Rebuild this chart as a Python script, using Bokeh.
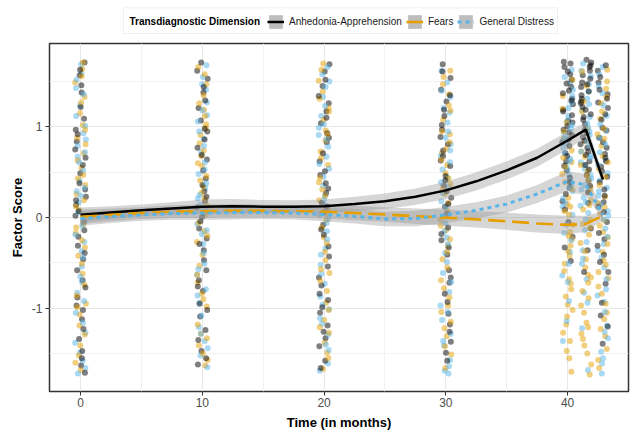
from bokeh.plotting import figure
from bokeh.layouts import column
from bokeh.models import (ColumnDataSource, Legend, LegendItem, Range1d, FixedTicker,
                          Label, BoxAnnotation)
from bokeh.embed import file_html
from bokeh.resources import INLINE

# ---------------- data ----------------
series_names = ["Anhedonia-Apprehension", "Fears", "General Distress"]
series_colors = ["#000000", "#E69F00", "#56B4E9"]
legend_title = "Transdiagnostic Dimension"

wave_times = [0, 10, 20, 30, 40, 41.5, 42.9]

anhedonia_scores = [
    [0.84, -1.12, 0.31, 1.57, -0.46, 0.02, -1.63, 1.09, -0.21, 0.66, -0.88, 1.38, 0.14, -0.69, 1.71, -1.34, 0.49, -0.05, 0.97, -1.47,
     0.23, -0.31, 1.22, -0.97, 0.58, -1.71, 0.38, -0.58, 1.46, -0.14, 0.75, -1.23, 0.07, -0.77, 1.63, -1.55, 0.92, -0.39, 0.19, -1.02],
    [1.21, -0.36, 0.64, -1.47, 0.18, 1.62, -0.81, 0.43, -1.09, 0.95, -0.12, 1.38, -1.62, 0.29, -0.58, 1.07, 0.01, -1.24, 0.77, -0.47,
     1.53, -0.95, 0.36, -1.35, 0.86, -0.23, 1.71, -0.69, 0.52, -1.55, 0.11, 1.29, -0.04, -1.02, 0.69, 1.44, -0.29, 0.23, -0.76, 0.98],
    [0.47, -1.33, 1.26, -0.08, 0.83, -0.66, 1.61, -1.19, 0.16, -0.43, 1.04, -1.58, 0.62, 0.27, -0.91, 1.45, -0.19, 0.93, -1.42, 0.38,
     1.69, -0.75, 0.06, -1.05, 1.17, -0.32, 0.71, -1.66, 0.51, -0.54, 1.34, 0.12, -0.99, 0.88, -1.26, 1.52, -0.13, 0.32, -0.84, 1.1],
    [0.97, -0.41, 1.54, 0.12, -1.06, 0.63, 1.28, -0.72, 0.35, -1.37, 1.69, 0.04, -0.25, 0.81, -1.18, 1.12, 0.46, -0.58, 1.41, -0.93,
     0.22, 0.74, -1.49, 1.02, -0.11, 0.57, -0.84, 1.61, 0.29, -1.26, 0.89, -0.33, 1.19, -0.66, 0.41, -1.58, 0.68, 1.35, -0.18, 0.15],
    [1.72, 0.94, 1.31, 0.52, 1.58, 0.18, 1.07, 1.44, 0.71, -0.21, 1.66, 0.86, 1.19, 0.33, 1.52, 0.62, 1.01, -0.48, 1.37, 0.79,
     1.25, 0.09, 1.61, 0.97, 0.44, 1.13, 1.48, 0.57, -0.05, 1.29, 0.83, 1.7, 0.26, 1.05, 0.68, 1.4, -0.33, 0.91, 1.17, 0.39],
    [1.49, 0.77, 1.68, 1.03, 0.41, 1.26, 1.74, 0.62, 1.11, -0.12, 1.57, 0.93, 1.35, 0.28, 1.62, 0.85, 1.19, 0.53, 1.44, -0.36,
     1.71, 1.08, 0.69, 1.31, 0.16, 1.53, 0.97, 1.22, 0.47, 1.66, 0.81, 1.39, -0.6, 1.14, 0.58, 1.47, 0.89, 0.35, 1.28, 0.73],
    [0.88, -0.24, 1.36, 0.51, -0.73, 1.62, 0.17, 0.96, -1.08, 1.21, 0.39, -0.41, 1.49, 0.7, -0.05, 1.08, -1.39, 0.62, 1.27, 0.24,
     -0.6, 1.55, 0.83, -0.17, 1.14, 0.45, -0.94, 1.41, 0.06, 0.77, -0.31, 1.68, 0.56, -1.2, 0.99, 0.31, -0.49, 1.31, 0.12, 0.66],
]
fears_scores = [
    [-0.62, 1.33, 0.08, -1.41, 0.71, -0.17, 1.64, -0.95, 0.43, -1.68, 0.26, 1.02, -0.33, -1.19, 0.88, 0.55, -0.74, 1.49, -0.08, -1.52,
     0.36, 1.15, -0.51, 0.63, -1.29, 0.12, 1.71, -0.86, -0.25, 0.97, -1.07, 0.47, -1.6, 1.27, 0.19, -0.42, 0.81, -0.99, 1.56, -0.11],
    [-0.15, 1.47, -1.28, 0.57, 0.03, -0.72, 1.19, -1.57, 0.82, -0.41, 1.66, 0.21, -0.98, 0.68, -1.41, 0.34, 1.03, -0.27, -1.63, 0.91,
     0.13, -0.84, 1.35, -0.53, 0.46, -1.18, 1.58, -0.06, 0.74, -1.33, 0.27, 1.12, -0.63, -1.5, 0.99, 0.41, -0.2, 1.26, -0.9, 0.6],
    [-0.94, 0.58, 1.39, -0.22, -1.49, 0.19, 0.96, -0.61, 1.63, -1.13, 0.44, -0.03, 1.21, -1.67, 0.73, -0.38, 0.09, 1.51, -0.81, 0.31,
     -1.27, 1.08, -0.47, 0.66, -1.55, 1.31, 0.04, -0.7, 0.85, -1.02, 1.7, -0.28, 0.39, -1.38, 0.92, -0.11, 1.17, -0.57, 0.24, -1.21],
    [-0.31, 0.92, -1.22, 0.49, 1.36, -0.69, 0.07, -1.51, 1.08, -0.14, 0.71, -0.97, 1.62, 0.26, -0.46, -1.31, 0.83, -0.02, 1.24, -0.78,
     0.37, -1.66, 0.58, 1.47, -0.24, -1.04, 0.16, 0.95, -0.55, 1.18, -1.42, 0.43, -0.09, 0.76, -0.88, 1.55, -1.15, 0.31, -0.38, 0.64],
    [-0.42, 0.61, -1.18, 0.15, -0.73, 1.34, -1.55, -0.08, 0.39, -0.96, 0.87, -1.36, -0.24, 1.05, -0.59, 0.22, -1.7, 0.48, -0.31, -0.87,
     1.52, -1.09, 0.03, -0.51, 0.74, -1.27, -0.16, 0.95, -0.68, 0.31, -1.47, 0.12, 1.2, -0.37, -0.79, 0.56, -1.02, 0.07, -0.2, 0.66],
    [-0.63, 0.28, -1.41, 0.84, -0.19, -0.97, 0.52, -1.62, 0.09, -0.46, 1.17, -1.21, -0.02, 0.67, -0.81, 1.45, -1.73, -0.28, 0.41, -1.05,
     0.19, -0.55, 0.98, -1.34, -0.11, 0.73, -0.72, 1.61, -1.5, 0.33, -0.37, -0.89, 0.58, -1.16, 0.14, 1.28, -0.66, -0.07, 0.46, -1.28],
    [0.23, -1.05, 0.79, -0.38, 1.42, -1.57, 0.11, -0.67, 1.09, -0.16, 0.54, -1.31, 1.63, -0.84, 0.36, -0.03, -1.45, 0.92, -0.52, 1.26,
     -0.22, 0.68, -1.12, 0.04, 1.5, -0.76, 0.45, -1.66, 0.87, -0.29, 1.17, -0.95, 0.16, -0.47, 1.33, -1.23, 0.61, -0.09, 0.98, -0.6],
]
distress_scores = [
    [0.41, -0.83, 1.59, -0.27, -1.38, 0.93, 0.17, -1.66, 1.24, -0.54, 0.67, -0.04, 1.43, -1.16, 0.29, -0.71, 1.01, -1.49, 0.52, -0.19,
     1.69, -0.92, 0.06, -1.27, 0.79, -0.37, 1.12, -1.58, 0.33, 0.61, -0.65, 1.36, -1.05, -0.09, 0.86, -1.72, 0.24, 1.52, -0.44, 0.72],
    [0.72, -1.21, 0.05, 1.41, -0.63, 0.33, -1.52, 1.13, -0.18, 0.87, -0.94, 1.68, 0.21, -1.36, 0.48, -0.39, 1.27, -1.08, 0.61, -0.07,
     1.55, -0.79, 0.14, -1.65, 0.95, -0.29, 1.06, -0.51, 0.38, -1.28, 1.47, 0.09, -0.86, 0.79, -1.44, 0.25, 1.18, -0.57, 0.53, -0.14],
    [1.33, -0.52, 0.24, -1.61, 0.91, -0.15, 1.58, -1.01, 0.45, -0.34, 1.12, -1.29, 0.03, 0.67, -0.87, 1.44, -1.46, 0.35, -0.06, 0.99,
     -0.73, 1.66, -1.17, 0.54, -0.41, 1.23, -1.69, 0.13, 0.78, -0.96, 1.03, -0.24, 0.59, -1.4, 1.5, -0.62, 0.2, -1.11, 0.86, -0.01],
    [-1.69, 0.53, -0.22, 1.16, -0.97, 0.34, -1.41, 0.81, -0.06, 1.49, -0.61, -1.57, 0.18, 0.95, -1.13, 0.44, 1.33, -0.39, -1.72, 0.68,
     0.02, -0.82, 1.21, -1.28, 0.27, -0.49, 1.62, -1.04, 0.61, -0.15, 0.88, -1.64, 0.39, 1.05, -0.71, -1.36, 0.11, 1.4, -0.29, 0.74],
    [0.82, -0.17, 1.21, 0.36, -0.64, 1.49, 0.58, 0.03, 1.06, -0.92, 0.71, 1.63, 0.21, -0.38, 0.94, 0.47, 1.34, -1.14, 0.65, 0.12,
     1.12, -0.25, 0.89, 0.29, 1.55, -0.51, 0.77, 0.41, 1.27, -0.08, 0.54, 0.98, -1.36, 0.33, 1.41, 0.16, -0.71, 0.86, 0.62, 1.02],
    [0.54, 1.18, -0.27, 0.91, 0.13, 1.47, -0.83, 0.68, 0.36, 1.31, -0.45, 0.79, 1.62, 0.05, -1.22, 1.04, 0.47, -0.14, 1.39, 0.61,
     -0.68, 0.95, 0.22, 1.56, -0.36, 0.84, 0.31, -1.68, 1.11, 0.58, -0.02, 1.25, 0.73, -0.94, 0.43, 1.7, 0.17, -0.51, 0.99, 0.66],
    [-1.72, 0.41, -0.29, 1.12, -0.86, 0.63, -1.48, 0.07, 1.37, -0.55, 0.88, -1.19, 0.24, -0.12, 1.58, -0.93, 0.49, -1.61, 0.96, -0.36,
     1.24, -0.68, 0.15, -1.33, 0.72, -0.02, 1.45, -1.04, 0.33, -0.44, 1.66, -0.79, 0.58, -1.26, 0.02, 1.03, -1.55, 0.29, 0.81, -0.21],
]

# horizontal jitter (months) applied to the observations
jitter_offsets = [-0.31, 0.12, 0.38, -0.07, 0.22, -0.42, 0.05, 0.29, -0.18, 0.41, -0.26, 0.09, -0.36, 0.17, 0.33, -0.12,
                  -0.02, 0.26, -0.39, 0.14, 0.44, -0.22, 0.01, -0.33, 0.19, 0.36, -0.09, -0.28, 0.07, 0.31, -0.44, 0.24,
                  -0.15, 0.4, -0.04, 0.11, -0.24, 0.34, -0.37, 0.2]

# smoothed trajectories with confidence half-widths
fit_time = [0, 2.5, 5, 7.5, 10, 12.5, 15, 17.5, 20, 22.5, 25, 27.5, 30, 32.5, 35, 37.5, 40, 41.5, 42.9]
anhedonia_fit = [0.03, 0.055, 0.08, 0.1, 0.12, 0.125, 0.12, 0.12, 0.125, 0.15, 0.18, 0.23, 0.3, 0.4, 0.52, 0.66, 0.85, 0.97, 0.42]
anhedonia_ci = [0.08, 0.07, 0.065, 0.07, 0.08, 0.08, 0.075, 0.07, 0.075, 0.08, 0.085, 0.09, 0.095, 0.1, 0.1, 0.1, 0.1, 0.08, 0.07]
fears_fit = [0.01, 0.03, 0.05, 0.065, 0.07, 0.075, 0.075, 0.07, 0.065, 0.05, 0.035, 0.015, 0.0, -0.02, -0.04, -0.065, -0.08, -0.07, 0.02]
fears_ci = [0.08, 0.07, 0.065, 0.07, 0.075, 0.075, 0.07, 0.07, 0.075, 0.08, 0.08, 0.085, 0.09, 0.09, 0.095, 0.1, 0.1, 0.09, 0.05]
distress_fit = [-0.01, 0.01, 0.03, 0.045, 0.05, 0.055, 0.055, 0.05, 0.035, 0.015, -0.015, -0.01, 0.03, 0.08, 0.15, 0.26, 0.4, 0.36, 0.03]
distress_ci = [0.08, 0.07, 0.065, 0.07, 0.075, 0.075, 0.07, 0.07, 0.075, 0.08, 0.08, 0.085, 0.09, 0.09, 0.095, 0.1, 0.11, 0.12, 0.05]

x_ticks = [0, 10, 20, 30, 40]
y_ticks = [-1, 0, 1]

FONT = "Liberation Sans"
fits = [anhedonia_fit, fears_fit, distress_fit]
cis = [anhedonia_ci, fears_ci, distress_ci]
dashes = ["solid", "17 7", "4 4"]
widths = [2.5, 2.6, 3.0]


def add_smooths(fig):
    bands, lines = [], []
    for f, c in zip(fits, cis):
        lo = [a - b for a, b in zip(f, c)]
        hi = [a + b for a, b in zip(f, c)]
        bands.append(fig.varea(x=fit_time, y1=lo, y2=hi, fill_color="#999999", fill_alpha=0.4))
    for f, col, d, lw in zip(fits, series_colors, dashes, widths):
        lines.append(fig.line(fit_time, f, line_color=col, line_width=lw, line_dash=d))
    return bands, lines


# ---------------- legend strip (top) ----------------
# (its frame is aligned with the main panel frame, which starts 49 px from the left)
leg = figure(width=630, height=42, output_backend="svg", toolbar_location=None,
             x_axis_type=None, y_axis_type=None, min_border=0,
             x_range=Range1d(1000, 1001), y_range=Range1d(1000, 1001))
leg.outline_line_color = None
leg.background_fill_color = "white"
leg.border_fill_color = "white"
kb, kl = add_smooths(leg)   # key renderers only (outside the visible range)

leg.add_layout(BoxAnnotation(left=74, right=508, bottom=9, top=34.7,
                             left_units="screen", right_units="screen",
                             bottom_units="screen", top_units="screen",
                             fill_color="white", fill_alpha=1, line_color="#CCCCCC", line_width=1))
leg.add_layout(Label(x=80, y=21.5, x_units="screen", y_units="screen", text=legend_title,
                     text_font=FONT, text_font_style="bold", text_font_size="10px",
                     text_baseline="middle", text_color="black"))
items = [LegendItem(label=name, renderers=[b, b, r]) for name, b, r in zip(series_names, kb, kl)]
legend = Legend(items=items, orientation="horizontal", location=(218, 12))
legend.label_text_font = FONT
legend.label_text_font_size = "10px"
legend.label_text_color = "#1A1A1A"
legend.label_standoff = 5
legend.glyph_width = 17
legend.glyph_height = 17
legend.spacing = 4
legend.padding = 4
legend.margin = 0
legend.border_line_color = None
legend.background_fill_alpha = 0
leg.add_layout(legend)

# ---------------- main panel ----------------
p = figure(width=630, height=390, output_backend="svg", toolbar_location=None,
           x_range=Range1d(-2.55, 45.0), y_range=Range1d(-1.918, 1.92),
           min_border_left=49, min_border_right=2, min_border_top=1, min_border_bottom=34)
p.background_fill_color = "white"
p.border_fill_color = "white"
p.outline_line_color = "#333333"
p.outline_line_width = 1.5

all_scores = [anhedonia_scores, fears_scores, distress_scores]
xs, ys, cols = [], [], []
for w, t in enumerate(wave_times):
    for i in range(len(jitter_offsets)):
        for s in range(3):
            js = jitter_offsets[(i + 13 * s) % len(jitter_offsets)]
            xs.append(t + js)
            ys.append(all_scores[s][w][i])
            cols.append(series_colors[s])
src = ColumnDataSource(dict(x=xs, y=ys, c=cols))
p.scatter("x", "y", source=src, size=6, fill_color="c", line_color=None, fill_alpha=0.5)

add_smooths(p)

p.xaxis.ticker = FixedTicker(ticks=x_ticks, minor_ticks=[5, 15, 25, 35, 45])
p.yaxis.ticker = FixedTicker(ticks=y_ticks, minor_ticks=[-1.5, -0.5, 0.5, 1.5])
p.yaxis.major_label_overrides = {-1: "-1", 0: "0", 1: "1"}
for ax in (p.xaxis[0], p.yaxis[0]):
    ax.axis_line_color = None
    ax.major_tick_line_color = "#333333"
    ax.major_tick_out = 4
    ax.major_tick_in = 0
    ax.minor_tick_line_color = None
    ax.major_label_text_font = FONT
    ax.major_label_text_font_size = "12px"
    ax.major_label_text_color = "#4D4D4D"
    ax.axis_label_text_font = FONT
    ax.axis_label_text_font_size = "13px"
    ax.axis_label_text_font_style = "bold"
    ax.axis_label_text_color = "black"
p.xaxis.axis_label = "Time (in months)"
p.yaxis.axis_label = "Factor Score"
p.xaxis.major_label_standoff = 2
p.xaxis.axis_label_standoff = 5
p.yaxis.major_label_standoff = 3
p.yaxis.axis_label_standoff = 4

p.xgrid.grid_line_color = "#E8E8E8"
p.ygrid.grid_line_color = "#E8E8E8"
p.xgrid.minor_grid_line_color = "#F2F2F2"
p.ygrid.minor_grid_line_color = "#F2F2F2"

layout = column(leg, p, spacing=0)
open("out.html", "w").write(file_html(layout, INLINE))
